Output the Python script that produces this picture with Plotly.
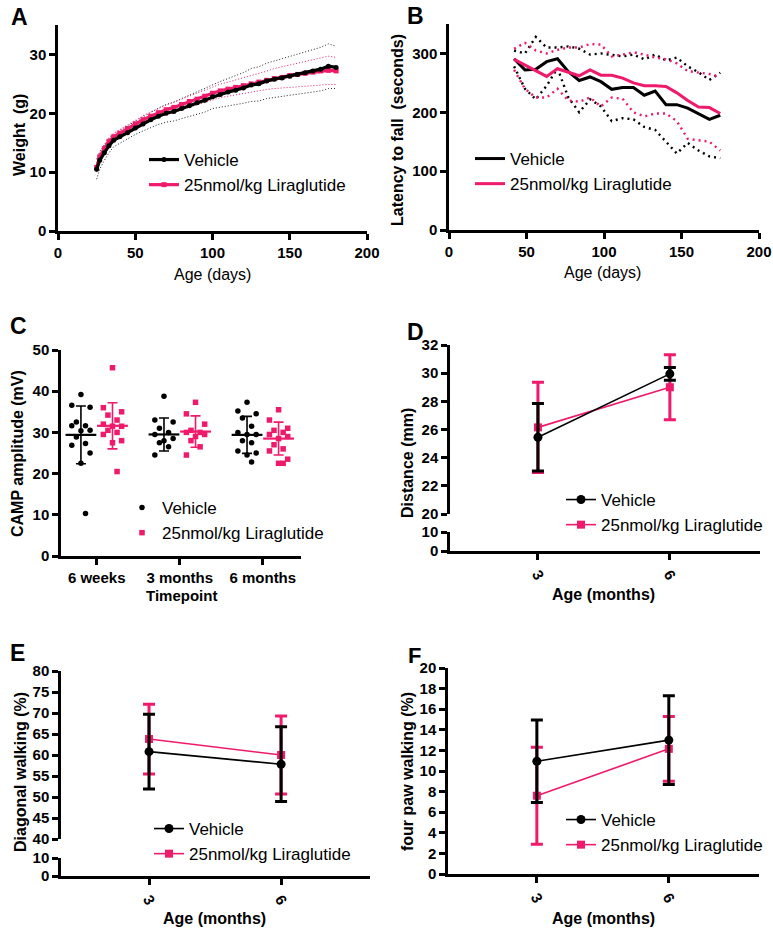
import plotly.graph_objects as go
import numpy as np

W, H = 773, 931
BLACK = "#000000"
PINK = "#EF1A6B"
FONT = "Liberation Sans, Arial, sans-serif"

# ---------------- Panel A: weight ----------------
a_days = [25, 27, 30, 33, 36, 40, 45, 50, 55, 60, 65, 70, 75, 80, 85, 90, 95, 100, 105, 110,
          115, 120, 125, 130, 135, 140, 145, 150, 155, 160, 165, 170, 175, 180]
a_veh_mean = [10.5, 12.0, 13.3, 14.5, 15.4, 16.0, 16.7, 17.5, 18.2, 18.9, 19.5, 20.0, 20.3, 20.8, 21.3,
              21.8, 22.2, 22.8, 23.2, 23.6, 23.9, 24.3, 24.8, 25.0, 25.5, 25.8, 26.0, 26.3, 26.6, 26.9,
              27.2, 27.5, 28.0, 27.8]
a_veh_sd = [1.7, 1.5, 1.3, 1.2, 1.1, 1.1, 1.1, 1.1, 1.2, 1.3, 1.4, 1.5, 1.6, 1.7, 1.8, 1.9, 2.0, 2.0,
            2.2, 2.3, 2.5, 2.6, 2.8, 2.9, 3.0, 3.1, 3.2, 3.3, 3.4, 3.5, 3.6, 3.7, 3.8, 3.6]
a_lir_mean = [10.8, 12.6, 14.0, 15.2, 16.0, 16.6, 17.4, 18.2, 18.9, 19.5, 20.1, 20.6, 21.0, 21.5, 22.0,
              22.4, 22.9, 23.4, 23.8, 24.1, 24.4, 24.7, 25.0, 25.3, 25.6, 25.9, 26.1, 26.4, 26.6, 26.8,
              27.0, 27.2, 27.3, 27.2]
a_lir_sd = [0.8, 0.8, 0.7, 0.7, 0.6, 0.6, 0.6, 0.6, 0.7, 0.7, 0.8, 0.8, 0.9, 0.9, 1.0, 1.0, 1.1, 1.1,
            1.15, 1.2, 1.25, 1.3, 1.35, 1.45, 1.55, 1.7, 1.8, 1.9, 2.0, 2.1, 2.2, 2.3, 2.4, 2.3]

# ---------------- Panel B: latency to fall ----------------
b_days = [42, 49, 56, 63, 70, 77, 84, 91, 98, 105, 112, 119, 126, 133, 140, 147, 154, 161, 168, 175]
b_veh_mean = [291, 272, 273, 286, 291, 269, 254, 260, 252, 239, 242, 242, 229, 236, 213, 213, 207, 198, 188, 195]
b_veh_upper = [305, 300, 328, 310, 310, 312, 308, 298, 300, 298, 295, 298, 290, 298, 288, 293, 278, 268, 255, 267]
b_veh_lower = [278, 240, 222, 245, 275, 225, 200, 222, 210, 185, 190, 188, 175, 170, 150, 130, 148, 135, 125, 122]
b_lir_mean = [290, 280, 270, 261, 274, 268, 262, 272, 263, 263, 258, 250, 245, 245, 244, 233, 220, 209, 208, 198]
b_lir_upper = [308, 318, 305, 300, 306, 310, 310, 316, 315, 295, 298, 302, 298, 293, 290, 283, 270, 268, 265, 260]
b_lir_lower = [272, 240, 225, 225, 240, 220, 218, 225, 210, 225, 223, 200, 193, 198, 198, 185, 155, 152, 150, 135]

# ---------------- Panel C: CAMP amplitude ----------------
c_labels = ["6 weeks", "3 months", "6 months"]
c_veh_pts = [
    [39.2, 36.6, 36.1, 32.5, 31.6, 31.6, 30.5, 30.4, 28.9, 27.3, 26.9, 25.0, 22.5, 10.3],
    [38.8, 33.0, 32.5, 31.0, 30.0, 29.5, 28.5, 28.0, 27.5, 26.5, 24.5],
    [37.3, 35.2, 34.5, 33.5, 31.5, 30.0, 29.5, 29.5, 28.0, 27.5, 25.5, 25.0, 24.5, 22.8],
]
c_lir_pts = [
    [45.7, 36.0, 35.0, 34.2, 33.0, 32.0, 31.5, 31.5, 30.5, 30.0, 29.5, 28.0, 27.5, 20.5],
    [37.3, 34.5, 32.0, 30.5, 30.0, 30.0, 29.5, 29.0, 28.0, 26.5, 24.5],
    [35.5, 33.0, 31.0, 30.5, 30.0, 29.5, 29.0, 28.5, 27.0, 26.0, 25.5, 23.5, 22.5, 22.5],
]
c_veh_mean = [29.4, 29.5, 29.4]
c_veh_sd = [7.0, 4.0, 4.5]
c_lir_mean = [31.6, 30.2, 28.5]
c_lir_sd = [5.6, 3.8, 4.0]

# ---------------- Panels D, E, F ----------------
months = [3, 6]
d_veh_mean = [25.45, 29.95]
d_veh_err = [2.4, 0.45]
d_lir_mean = [26.15, 29.0]
d_lir_err = [3.2, 2.3]

e_veh_mean = [60.8, 57.8]
e_veh_err = [8.9, 8.9]
e_lir_mean = [63.8, 60.0]
e_lir_err = [8.3, 9.3]

f_veh_mean = [10.95, 13.0]
f_veh_err = [4.0, 4.3]
f_lir_mean = [7.6, 12.15]
f_lir_err = [4.7, 3.15]


def dx(p):
    return p / W


def dy(p):
    return 1 - p / H


fig = go.Figure()

# ---- A traces ----
for mean, sd, col in [(a_veh_mean, a_veh_sd, "#222222"), (a_lir_mean, a_lir_sd, PINK)]:
    m = np.array(mean)
    s = np.array(sd)
    for band in (m + s, m - s):
        fig.add_trace(go.Scatter(x=a_days, y=band, mode="lines", line=dict(color=col, width=1, dash="1px,2px"),
                                 showlegend=False, hoverinfo="skip", xaxis="x", yaxis="y"))
fig.add_trace(go.Scatter(x=a_days, y=a_lir_mean, mode="lines+markers", name="25nmol/kg Liraglutide",
                         line=dict(color=PINK, width=3.2), marker=dict(symbol="square", size=5, color=PINK),
                         xaxis="x", yaxis="y", legend="legend", legendrank=2, legendgroup="a2"))
fig.add_trace(go.Scatter(x=a_days, y=a_veh_mean, mode="lines+markers", name="Vehicle",
                         line=dict(color=BLACK, width=3.2), marker=dict(symbol="circle", size=5, color=BLACK),
                         xaxis="x", yaxis="y", legend="legend", legendrank=1, legendgroup="a1"))

# ---- B traces ----
for band, col in [(b_veh_upper, BLACK), (b_veh_lower, BLACK), (b_lir_upper, PINK), (b_lir_lower, PINK)]:
    fig.add_trace(go.Scatter(x=b_days, y=band, mode="lines", line=dict(color=col, width=2.4, dash="2px,4px"),
                             showlegend=False, hoverinfo="skip", xaxis="x2", yaxis="y2"))
fig.add_trace(go.Scatter(x=b_days, y=b_veh_mean, mode="lines", name="Vehicle",
                         line=dict(color=BLACK, width=3), xaxis="x2", yaxis="y2",
                         legend="legend2", legendgroup="b1"))
fig.add_trace(go.Scatter(x=b_days, y=b_lir_mean, mode="lines", name="25nmol/kg Liraglutide",
                         line=dict(color=PINK, width=3), xaxis="x2", yaxis="y2",
                         legend="legend2", legendgroup="b2"))

# ---- C traces ----
jit_pattern = [0, -1, 1, -0.5, 0.5, -1, 1, 0, -0.5, 0.5, -1, 1, 0, 0.5]
JW = 0.11
OFF = 0.19
for gi, (pts_list, off, col, sym, name, mean, sd) in enumerate([
        (c_veh_pts, -OFF, BLACK, "circle", "Vehicle", c_veh_mean, c_veh_sd),
        (c_lir_pts, OFF, PINK, "square", "25nmol/kg Liraglutide", c_lir_mean, c_lir_sd)]):
    xs, ys = [], []
    for ci, pts in enumerate(pts_list):
        for k, v in enumerate(pts):
            xs.append(ci + off + jit_pattern[k % len(jit_pattern)] * JW)
            ys.append(v)
    fig.add_trace(go.Scatter(x=xs, y=ys, mode="markers", name=name,
                             marker=dict(symbol=sym, size=5.5, color=col),
                             xaxis="x3", yaxis="y3", legend="legend3", legendgroup="c%d" % gi))
    fig.add_trace(go.Scatter(x=[i + off for i in range(3)], y=mean, mode="markers", showlegend=False,
                             marker=dict(symbol="line-ew", size=22, line=dict(color=col, width=2.2)),
                             error_y=dict(type="data", array=sd, color=col, thickness=1.6, width=5),
                             xaxis="x3", yaxis="y3", hoverinfo="skip"))


# ---- D/E/F traces ----
def add_group(xa, ya, leg, vm, ve, lm, le, tag):
    fig.add_trace(go.Scatter(x=months, y=lm, mode="lines+markers", name="25nmol/kg Liraglutide",
                             line=dict(color=PINK, width=1.6), marker=dict(symbol="square", size=8, color=PINK),
                             error_y=dict(type="data", array=le, color=PINK, thickness=3, width=6),
                             xaxis=xa, yaxis=ya, legend=leg, legendrank=2, legendgroup=tag + "2"))
    fig.add_trace(go.Scatter(x=months, y=vm, mode="lines+markers", name="Vehicle",
                             line=dict(color=BLACK, width=1.6), marker=dict(symbol="circle", size=9, color=BLACK),
                             error_y=dict(type="data", array=ve, color=BLACK, thickness=3, width=6),
                             xaxis=xa, yaxis=ya, legend=leg, legendrank=1, legendgroup=tag + "1"))


add_group("x4", "y4", "legend4", d_veh_mean, d_veh_err, d_lir_mean, d_lir_err, "d")
add_group("x5", "y6", "legend5", e_veh_mean, e_veh_err, e_lir_mean, e_lir_err, "e")
add_group("x6", "y8", "legend6", f_veh_mean, f_veh_err, f_lir_mean, f_lir_err, "f")
# dummy traces so the lower broken-axis segments exist
fig.add_trace(go.Scatter(x=[None], y=[None], xaxis="x4", yaxis="y5", showlegend=False))
fig.add_trace(go.Scatter(x=[None], y=[None], xaxis="x5", yaxis="y7", showlegend=False))

tickfont = dict(family=FONT, size=15, color=BLACK, weight="bold")


def ax(domain_px, rng, anchor, tickvals=None, ticktext=None, tickangle=None, vertical=False):
    d = dict(range=rng, anchor=anchor, showline=True, linecolor=BLACK, linewidth=2.5, automargin=False,
             ticks="outside", ticklen=6, tickwidth=2.5, tickcolor=BLACK, showgrid=False, zeroline=False,
             tickfont=tickfont, fixedrange=True)
    if vertical:
        d["domain"] = [dy(domain_px[1]), dy(domain_px[0])]
    else:
        d["domain"] = [dx(domain_px[0]), dx(domain_px[1])]
    if tickvals is not None:
        d["tickmode"] = "array"
        d["tickvals"] = tickvals
        if ticktext is not None:
            d["ticktext"] = ticktext
    if tickangle is not None:
        d["tickangle"] = tickangle
    return d


layout = dict(
    width=W, height=H, margin=dict(l=0, r=0, t=0, b=0, pad=0, autoexpand=False), autosize=False,
    paper_bgcolor="white", plot_bgcolor="white", font=dict(family=FONT, color=BLACK),
    # A
    xaxis=ax([58, 367], [0, 200], "y", tickvals=[0, 50, 100, 150, 200]),
    yaxis=ax([25, 231], [0, 35], "x", tickvals=[0, 10, 20, 30], vertical=True),
    # B
    xaxis2=ax([449, 759], [0, 200], "y2", tickvals=[0, 50, 100, 150, 200]),
    yaxis2=ax([24, 230], [0, 350], "x2", tickvals=[0, 100, 200, 300], vertical=True),
    # C
    xaxis3=ax([61, 301], [-0.43, 2.46], "y3", tickvals=[0, 1, 2], ticktext=c_labels),
    yaxis3=ax([350, 556], [0, 50], "x3", tickvals=[0, 10, 20, 30, 40, 50], vertical=True),
    # D
    xaxis4=ax([450, 760], [1, 8.05], "y5", tickvals=months, ticktext=["3", "6"], tickangle=60),
    yaxis4=ax([345, 514], [20, 32], "x4", tickvals=[20, 22, 24, 26, 28, 30, 32], vertical=True),
    yaxis5=ax([532, 551], [0, 10], "x4", tickvals=[0, 10], vertical=True),
    # E
    xaxis5=ax([61, 370], [1, 8.02], "y7", tickvals=months, ticktext=["3", "6"], tickangle=60),
    yaxis6=ax([671, 839], [40, 80], "x5", tickvals=[40, 45, 50, 55, 60, 65, 70, 75, 80], vertical=True),
    yaxis7=ax([858, 876], [0, 10], "x5", tickvals=[0, 10], vertical=True),
    # F
    xaxis6=ax([448, 759], [0.98, 8.05], "y8", tickvals=months, ticktext=["3", "6"], tickangle=60),
    yaxis8=ax([668, 874], [0, 20], "x6", tickvals=list(range(0, 21, 2)), vertical=True),
)


def leg(left_text_px, top_px, gap):
    return dict(x=dx(left_text_px - 42), y=dy(top_px), xanchor="left", yanchor="top",
                bgcolor="rgba(0,0,0,0)", borderwidth=0, font=dict(family=FONT, size=17, color=BLACK),
                tracegroupgap=gap, itemwidth=30, traceorder="normal")


layout["legend"] = leg(186, 142, 5)
layout["legend2"] = leg(512, 141, 14)
layout["legend3"] = leg(164, 490, 0)
layout["legend4"] = leg(603, 482, 0)
layout["legend5"] = leg(191, 811, 0)
layout["legend6"] = leg(603, 802, 0)

fig.update_layout(**layout)

ann = []


def txt(x, y, s, size=16, bold=True, angle=0):
    ann.append(dict(x=dx(x), y=dy(y), xref="paper", yref="paper", text=s, showarrow=False,
                    textangle=angle, xanchor="center", yanchor="middle",
                    font=dict(family=FONT, size=size, color=BLACK, weight="bold" if bold else "normal")))


# panel letters
txt(19, 17, "A", 23)
txt(415, 16, "B", 23)
txt(18, 326, "C", 23)
txt(415, 332, "D", 23)
txt(17, 653, "E", 23)
txt(414, 655, "F", 22)
# axis titles
txt(20, 135, "Weight  (g)", 16, True, -90)
txt(212, 274, "Age (days)", 16, False)
txt(398, 130, "Latency to fall  (seconds)", 16, True, -90)
txt(602, 272, "Age (days)", 16, False)
txt(18, 454, "CAMP amplitude (mV)", 16, True, -90)
txt(181, 595, "Timepoint", 15, True)
txt(408, 463, "Distance (mm)", 16, True, -90)
txt(603, 594, "Age (months)", 16, True)
txt(20, 772, "Diagonal walking (%)", 16, True, -90)
txt(214, 918, "Age (months)", 16, True)
txt(407, 772, "four paw walking (%)", 16, True, -90)
txt(603, 918, "Age (months)", 16, True)

fig.update_layout(annotations=ann)
fig.write_html("out.html", config={"displayModeBar": False},
               post_script="document.body.style.margin='0';document.body.style.padding='0';"
                           "document.body.style.overflow='hidden';")
